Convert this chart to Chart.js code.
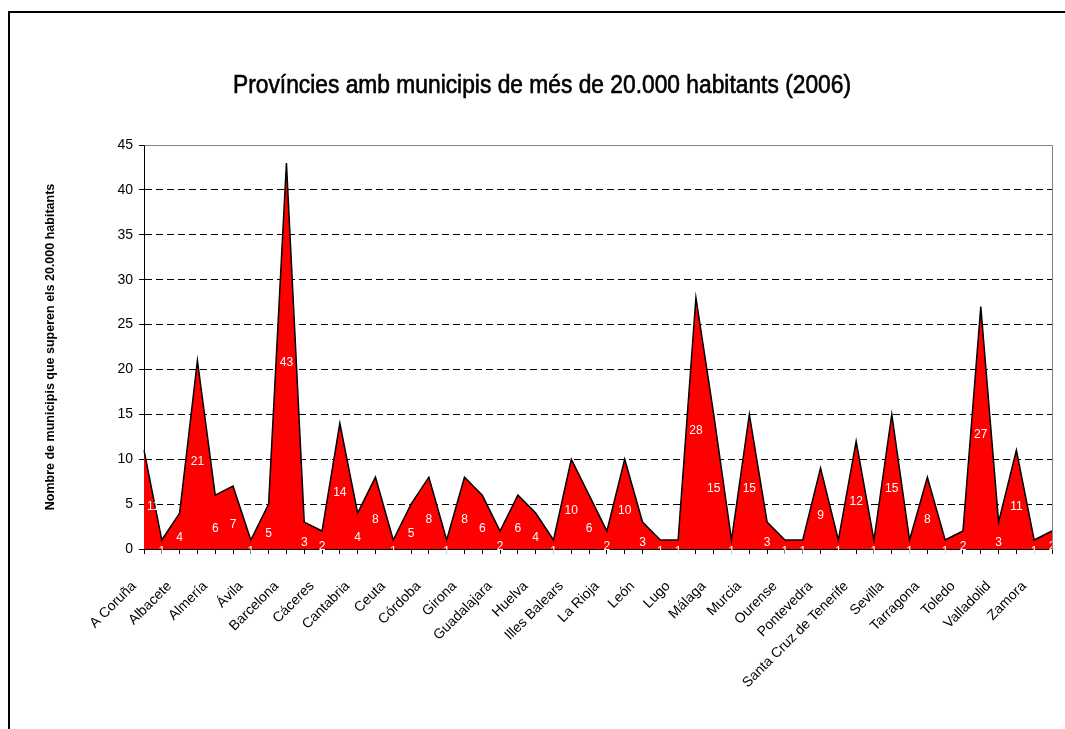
<!DOCTYPE html>
<html>
<head>
<meta charset="utf-8">
<title>Províncies amb municipis de més de 20.000 habitants (2006)</title>
<script src="https://cdn.jsdelivr.net/npm/chart.js@4/dist/chart.umd.min.js"></script>
<style>
  html, body { margin: 0; padding: 0; background: #ffffff; }
  canvas { display: block; }
</style>
</head>
<body>
<canvas id="chart" width="1065" height="729"></canvas>
<script>
// Provinces (alphabetical) and number of municipalities above 20,000 inhabitants, 2006
const provinces = [
  'A Coruña', 'Álava', 'Albacete', 'Alicante', 'Almería', 'Asturias', 'Ávila', 'Badajoz',
  'Barcelona', 'Burgos', 'Cáceres', 'Cádiz', 'Cantabria', 'Castellón', 'Ceuta', 'Ciudad Real',
  'Córdoba', 'Cuenca', 'Girona', 'Granada', 'Guadalajara', 'Guipúzcoa', 'Huelva', 'Huesca',
  'Illes Balears', 'Jaén', 'La Rioja', 'Las Palmas', 'León', 'Lleida', 'Lugo', 'Madrid',
  'Málaga', 'Melilla', 'Murcia', 'Navarra', 'Ourense', 'Palencia', 'Pontevedra', 'Salamanca',
  'Santa Cruz de Tenerife', 'Segovia', 'Sevilla', 'Soria', 'Tarragona', 'Teruel', 'Toledo',
  'Valencia', 'Valladolid', 'Vizcaya', 'Zamora', 'Zaragoza'
];
const municipalities = [
  11, 1, 4, 21, 6, 7, 1, 5,
  43, 3, 2, 14, 4, 8, 1, 5,
  8, 1, 8, 6, 2, 6, 4, 1,
  10, 6, 2, 10, 3, 1, 1, 28,
  15, 1, 15, 3, 1, 1, 9, 1,
  12, 1, 15, 1, 8, 1, 2,
  27, 3, 11, 1, 2
];
const yTicks = [0, 5, 10, 15, 20, 25, 30, 35, 40, 45];

const chartTitle = 'Províncies amb municipis de més de 20.000 habitants (2006)';
const yTitle = 'Nombre de municipis que superen els 20.000 habitants';

// White background and the outer frame of the chart object
const framePlugin = {
  id: 'frame',
  beforeDraw(chart) {
    const ctx = chart.ctx;
    ctx.save();
    ctx.fillStyle = '#ffffff';
    ctx.fillRect(0, 0, chart.width, chart.height);
    ctx.fillStyle = '#000000';
    ctx.fillRect(8, 11, chart.width - 8, 2);
    ctx.fillRect(8, 11, 2, chart.height - 11);
    ctx.restore();
  }
};

// Condensed chart title (narrow face obtained by squeezing the sans font)
const narrowTitlePlugin = {
  id: 'narrowTitle',
  afterDraw(chart) {
    const ctx = chart.ctx;
    ctx.save();
    ctx.font = '25px "Liberation Sans", Arial, sans-serif';
    const natural = ctx.measureText(chartTitle).width;
    const squeeze = 618 / natural;
    ctx.translate(542, 93);
    ctx.scale(squeeze, 1);
    ctx.textAlign = 'center';
    ctx.textBaseline = 'alphabetic';
    ctx.fillStyle = '#000000';
    ctx.strokeStyle = '#000000';
    ctx.lineWidth = 0.6;
    ctx.fillText(chartTitle, 0, 0);
    ctx.strokeText(chartTitle, 0, 0);
    ctx.restore();
  }
};

// Grey top and right edges of the plot area
const plotEdgePlugin = {
  id: 'plotEdge',
  afterDraw(chart) {
    const { ctx, chartArea: a } = chart;
    ctx.save();
    ctx.strokeStyle = '#808080';
    ctx.lineWidth = 1;
    ctx.beginPath();
    ctx.moveTo(Math.round(a.left) + 0.5, Math.round(a.top) + 0.5);
    ctx.lineTo(Math.round(a.right) + 0.5, Math.round(a.top) + 0.5);
    ctx.lineTo(Math.round(a.right) + 0.5, Math.round(a.bottom) + 0.5);
    ctx.stroke();
    ctx.restore();
  }
};

// White value labels placed half-way up each area point
const valueLabelPlugin = {
  id: 'valueLabels',
  afterDatasetsDraw(chart) {
    const { ctx, chartArea: a, scales } = chart;
    const meta = chart.getDatasetMeta(0);
    const data = chart.data.datasets[0].data;
    ctx.save();
    // clip at the left/right plot edges only; labels may overlap the base line
    ctx.beginPath();
    ctx.rect(a.left, a.top, a.right - a.left, a.bottom - a.top + 20);
    ctx.clip();
    ctx.fillStyle = '#ffffff';
    ctx.font = '12px "Liberation Sans", Arial, sans-serif';
    ctx.textAlign = 'center';
    ctx.textBaseline = 'middle';
    meta.data.forEach((pt, i) => {
      const v = data[i];
      let x = pt.x;
      const w = ctx.measureText(String(v)).width;
      if (i === 0) x = Math.max(x, a.left + w / 2 + 3);
      const y = scales.y.getPixelForValue(v / 2) + 7;
      ctx.fillText(String(v), x, y);
    });
    ctx.restore();
  }
};

new Chart(document.getElementById('chart'), {
  type: 'line',
  data: {
    labels: provinces,
    datasets: [{
      data: municipalities,
      fill: 'origin',
      backgroundColor: '#ff0000',
      borderColor: '#000000',
      borderWidth: 1.5,
      pointRadius: 0,
      pointHoverRadius: 0,
      tension: 0
    }]
  },
  options: {
    responsive: false,
    devicePixelRatio: 1,
    animation: false,
    events: [],
    layout: { padding: { left: 36, right: 13, top: 145, bottom: 0 } },
    plugins: {
      legend: { display: false },
      tooltip: { enabled: false },
      title: { display: false }
    },
    scales: {
      x: {
        type: 'category',
        offset: false,
        afterFit(scale) {
          scale.height = 180;
          scale.paddingLeft = 0;
          scale.paddingRight = 0;
        },
        grid: {
          drawOnChartArea: false,
          drawTicks: true,
          tickLength: 5,
          tickColor: '#000000'
        },
        border: { display: true, color: '#000000', width: 1 },
        ticks: {
          autoSkip: false,
          minRotation: 45,
          maxRotation: 45,
          padding: 24,
          labelOffset: -10,
          color: '#000000',
          font: { family: '"Liberation Sans", Arial, sans-serif', size: 14 },
          callback(value, index) {
            return index % 2 === 0 ? this.getLabelForValue(value) : '';
          }
        }
      },
      y: {
        min: 0,
        max: 45,
        afterFit(scale) { scale.width = 108; },
        afterBuildTicks(scale) { scale.ticks = yTicks.map(v => ({ value: v })); },
        grid: {
          drawTicks: true,
          tickLength: 5,
          tickColor: '#000000',
          color: ctx => (ctx.tick && (ctx.tick.value === 0 || ctx.tick.value === 45)) ? 'rgba(0,0,0,0)' : '#000000',
          lineWidth: 1
        },
        border: { display: true, color: '#000000', width: 1, dash: [7, 4] },
        ticks: {
          padding: 6,
          color: '#000000',
          font: { family: '"Liberation Sans", Arial, sans-serif', size: 14 }
        },
        title: {
          display: true,
          text: yTitle,
          color: '#000000',
          font: { family: '"Liberation Sans", Arial, sans-serif', size: 12.5, weight: 'bold' },
          padding: { top: 7, bottom: 0 }
        }
      }
    }
  },
  plugins: [framePlugin, plotEdgePlugin, valueLabelPlugin, narrowTitlePlugin]
});
</script>
</body>
</html>
